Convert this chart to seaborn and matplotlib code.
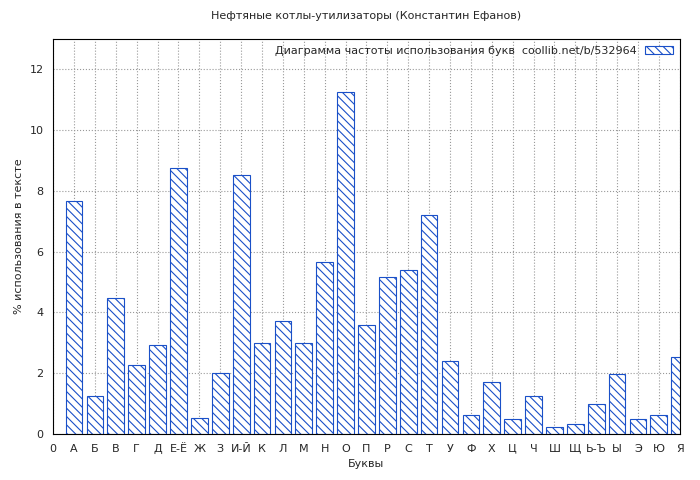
import numpy as np
import pandas as pd
import matplotlib
matplotlib.use("Agg")
import matplotlib.pyplot as plt
import seaborn as sns

# ==========================================
# Data
# ==========================================

letters = ["А", "Б", "В", "Г", "Д", "Е-Ё", "Ж", "З", "И-Й", "К", "Л", "М", "Н", "О", "П",
           "Р", "С", "Т", "У", "Ф", "Х", "Ц", "Ч", "Ш", "Щ", "Ь-Ъ", "Ы", "Э", "Ю", "Я"]
percent = [7.66, 1.25, 4.47, 2.27, 2.93, 8.75, 0.53, 2.0, 8.52, 2.99, 3.72, 2.99, 5.66, 11.25, 3.59,
           5.16, 5.39, 7.2, 2.4, 0.63, 1.71, 0.49, 1.25, 0.23, 0.33, 0.99, 1.97, 0.49, 0.63, 2.53]
tick_labels = ["0"] + letters

df = pd.DataFrame({"pos": np.arange(1, len(letters) + 1), "pct": percent})

# ==========================================
# Plot
# ==========================================

sns.set_style("white")
plt.rcParams["font.family"] = ["DejaVu Sans"]
plt.rcParams["hatch.color"] = "#1a50c8"
plt.rcParams["hatch.linewidth"] = 0.8

fig = plt.figure(figsize=(7, 4.8), dpi=100)
ax = fig.add_axes([0.076, 0.096, 0.895, 0.823])

sns.barplot(data=df, x="pos", y="pct", native_scale=True, width=0.8,
            color="white", edgecolor="#1a50c8", linewidth=0.8, ax=ax,
            label="Диаграмма частоты использования букв  coollib.net/b/532964")
for p in ax.patches:
    p.set_hatch("\\\\\\\\")

ax.set_xlim(0, 30)
ax.set_ylim(0, 13)
ax.set_xticks(range(0, 31))
ax.set_xticklabels(tick_labels, fontsize=8)
ax.set_yticks(range(0, 13, 2))
ax.tick_params(axis="y", labelsize=8)
ax.grid(True, linestyle=":", color="#999999", linewidth=0.8)
ax.set_axisbelow(True)
for s in ax.spines.values():
    s.set_color("black")
    s.set_linewidth(0.8)

ax.set_title("Нефтяные котлы-утилизаторы (Константин Ефанов)", fontsize=8, pad=14)
ax.set_xlabel("Буквы", fontsize=8)
ax.set_ylabel("% использования в тексте", fontsize=8)

ax.legend(loc="upper right", frameon=False, markerfirst=False, fontsize=8,
          handlelength=2.5, borderaxespad=0.2)

fig.savefig("out.png", dpi=100)
